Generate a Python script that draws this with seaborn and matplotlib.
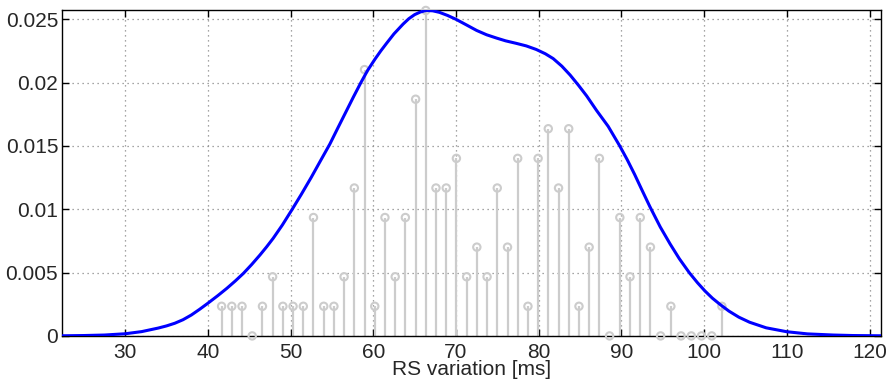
import matplotlib
matplotlib.use("Agg")
import matplotlib.pyplot as plt
import seaborn as sns
import numpy as np
import pandas as pd

# ---- data ----
stem_x = [41.66, 42.89, 44.13, 45.36, 46.60, 47.83, 49.07, 50.30, 51.54, 52.77,
          54.01, 55.24, 56.47, 57.71, 58.94, 60.18, 61.41, 62.65, 63.88, 65.12,
          66.35, 67.58, 68.82, 70.05, 71.29, 72.52, 73.76, 74.99, 76.23, 77.46,
          78.70, 79.93, 81.16, 82.40, 83.63, 84.87, 86.10, 87.34, 88.57, 89.81,
          91.04, 92.28, 93.51, 94.74, 95.98, 97.21, 98.45, 99.68, 100.92, 102.15]
stem_y = [0.00234, 0.00234, 0.00234, 0.0, 0.00234, 0.00467, 0.00234, 0.00234, 0.00234, 0.00935,
          0.00234, 0.00234, 0.00467, 0.01168, 0.02103, 0.00234, 0.00935, 0.00467, 0.00935, 0.01869,
          0.02570, 0.01168, 0.01168, 0.01402, 0.00467, 0.00701, 0.00467, 0.01168, 0.00701, 0.01402,
          0.00234, 0.01402, 0.01636, 0.01168, 0.01636, 0.00234, 0.00701, 0.01402, 0.0, 0.00935,
          0.00467, 0.00935, 0.00701, 0.0, 0.00234, 0.0, 0.0, 0.0, 0.0, 0.00234]

curve_x = [22.4, 25.0, 27.5, 30.0, 32.0, 34.0, 35.0, 36.0, 37.0, 38.0, 39.0, 40.0, 41.2,
           42.3, 43.3, 44.3, 45.3, 46.3, 47.1, 47.9, 49.0, 50.2, 51.3, 52.5, 53.6,
           54.75, 55.7, 56.6, 57.6, 58.5, 59.3, 60.2, 60.9, 61.6, 62.5, 63.6, 64.3,
           65.0, 65.7, 66.4, 67.2, 68.0, 69.0, 70.0, 71.2, 72.5, 73.7, 74.9, 76.0,
           77.3, 78.5, 79.7, 80.8, 81.75, 82.8, 83.8, 84.8, 85.8, 87.0, 88.4, 89.8,
           90.7, 91.6, 92.5, 93.45, 94.7, 95.9, 97.0, 98.2, 99.2, 100.1, 101.0, 101.9,
           103.0, 104.2, 105.5, 107.5, 110.0, 112.5, 115.6, 118.0, 121.4]
curve_y = [0.00001, 0.00003, 0.00007, 0.00017, 0.00034, 0.00062, 0.00079, 0.00100, 0.00128,
           0.00165, 0.00210, 0.00258, 0.00318, 0.00376, 0.00433, 0.00494, 0.00564, 0.00639,
           0.00703, 0.00771, 0.00875, 0.01000, 0.01118, 0.01252, 0.01381, 0.01515, 0.01640,
           0.01757, 0.01887, 0.02000, 0.02095, 0.02185, 0.02250, 0.02310, 0.02385, 0.02462,
           0.02505, 0.02537, 0.02558, 0.02570, 0.02567, 0.02555, 0.02530, 0.02500, 0.02458,
           0.02412, 0.02378, 0.02352, 0.02330, 0.02310, 0.02290, 0.02262, 0.02228, 0.02190,
           0.02130, 0.02060, 0.01980, 0.01895, 0.01780, 0.01655, 0.01500, 0.01392, 0.01275,
           0.01150, 0.01020, 0.00860, 0.00725, 0.00610, 0.00500, 0.00420, 0.00355, 0.00298,
           0.00250, 0.00196, 0.00148, 0.00108, 0.00064, 0.00033, 0.00016, 0.00007, 0.00003,
           0.00001]

x_ticks = [30, 40, 50, 60, 70, 80, 90, 100, 110, 120]
y_ticks = [0, 0.005, 0.01, 0.015, 0.02, 0.025]
y_tick_labels = ["0", "0.005", "0.01", "0.015", "0.02", "0.025"]
x_label = "RS variation [ms]"

sns.set_theme(style="white")
plt.rcParams['font.family'] = ['Liberation Sans', 'DejaVu Sans']

fig = plt.figure(figsize=(8.9, 3.87), dpi=100)
ax = fig.add_axes([0.070, 0.132, 0.920, 0.841])

stems = pd.DataFrame({"x": stem_x, "y": stem_y})
curve = pd.DataFrame({"x": curve_x, "y": curve_y})

ax.vlines(stems["x"], 0, stems["y"], colors="#cccccc", linewidth=1.6, zorder=2)
sns.scatterplot(data=stems, x="x", y="y", ax=ax, marker="o", s=28,
                facecolor="none", edgecolor="#cccccc", linewidth=1.5,
                zorder=3, clip_on=False, legend=False)
sns.lineplot(data=curve, x="x", y="y", ax=ax, color="#0000ff", linewidth=2.2,
             sort=True, zorder=4, estimator=None)

ax.set_xlim(22.4, 121.4)
ax.set_ylim(0, 0.0257)
ax.set_xticks(x_ticks)
ax.set_xticklabels([str(t) for t in x_ticks])
ax.set_yticks(y_ticks)
ax.set_yticklabels(y_tick_labels)

ax.grid(True, linestyle=(0, (1, 3)), color="#888888", linewidth=0.9)
ax.set_axisbelow(True)
for s in ax.spines.values():
    s.set_color("black")
    s.set_linewidth(1.0)
    s.set_visible(True)

ax.tick_params(axis="both", direction="in", length=5, width=1, color="black",
               top=True, right=True, bottom=True, left=True, labelsize=15)
ax.tick_params(axis="x", pad=5)
ax.tick_params(axis="y", pad=3)
ax.set_xlabel(x_label, fontsize=15, labelpad=-1)
ax.set_ylabel("")

fig.savefig("out.png", dpi=100)
